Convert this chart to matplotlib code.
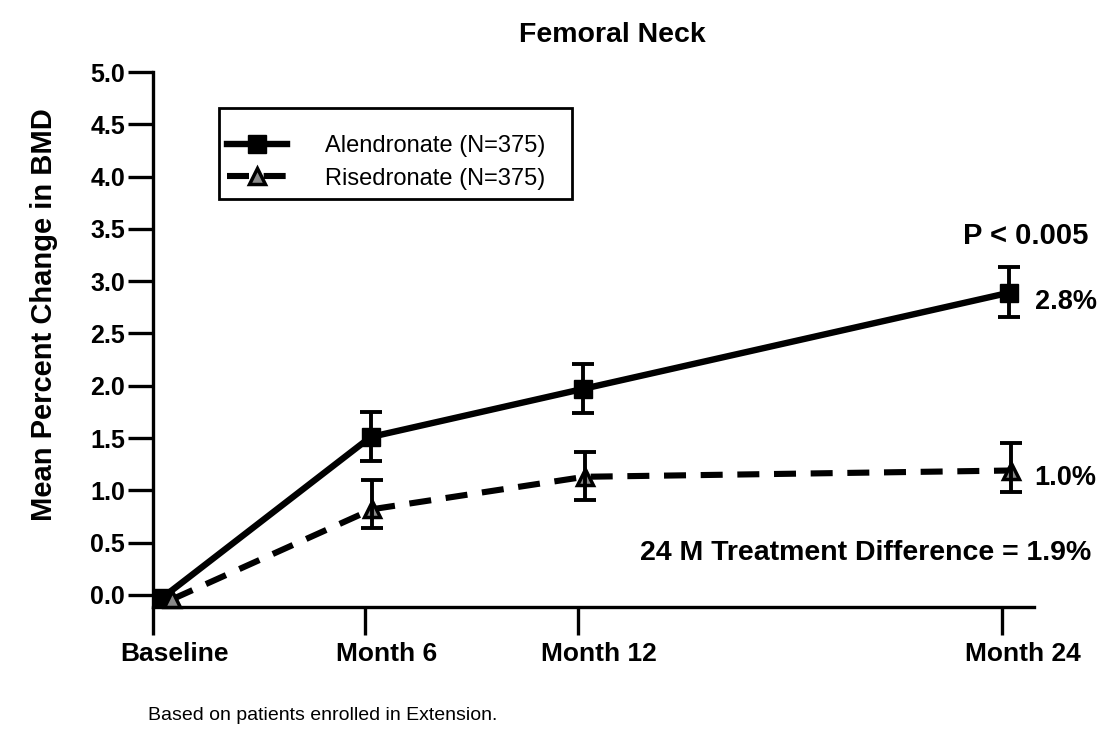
import numpy as np
import matplotlib
matplotlib.use('Agg')
import matplotlib.pyplot as plt
import matplotlib.transforms as mtransforms
from matplotlib.patches import Rectangle

plt.rcParams['font.family'] = ['Liberation Sans', 'DejaVu Sans']

months = [0, 6, 12, 24]
tick_labels = ['Baseline', 'Month 6', 'Month 12', 'Month 24']

# small nudges so the two groups don't sit on top of each other
aln_shift = [0.25, 0.15, 0.15, 0.2]
ris_shift = [0.55, 0.2, 0.2, 0.25]

aln_mean = [-0.03, 1.51, 1.97, 2.89]
aln_low = [1.28, 1.74, 2.66]    # month 6, 12, 24
aln_high = [1.75, 2.21, 3.14]

ris_mean = [-0.04, 0.82, 1.13, 1.19]
ris_low = [0.64, 0.91, 0.98]
ris_high = [1.10, 1.37, 1.45]

W, H = 1109, 730
fig = plt.figure(figsize=(W / 100, H / 100), dpi=100)
ax = fig.add_axes([153 / W, 1 - 607 / H, (1034 - 153) / W, (607 - 72) / H])

xa = np.add(months, aln_shift)
xr = np.add(months, ris_shift)

ax.plot(xa, aln_mean, color='black', lw=4.6, marker='s', ms=13,
        mfc='black', mec='black', label='Alendronate (N=375)', zorder=3,
        clip_on=False)
ax.plot(xr, ris_mean, color='black', lw=4.4, ls=(0, (3.6, 2.4)), marker='^', ms=12,
        mfc='#8a8a8a', mec='black', mew=2.5, label='Risedronate (N=375)',
        zorder=3, clip_on=False)

am = np.array(aln_mean[1:])
rm = np.array(ris_mean[1:])
ax.errorbar(xa[1:], am, yerr=[am - aln_low, np.array(aln_high) - am], fmt='none',
            ecolor='black', elinewidth=2.8, capsize=8, capthick=2.8, zorder=4)
ax.errorbar(xr[1:], rm, yerr=[rm - ris_low, np.array(ris_high) - rm], fmt='none',
            ecolor='black', elinewidth=2.8, capsize=8, capthick=2.8, zorder=4)

ax.set_xlim(0, 24.9)
ax.set_ylim(-0.115, 5.0)
for s in ['top', 'right']:
    ax.spines[s].set_visible(False)
for s in ['left', 'bottom']:
    ax.spines[s].set_linewidth(2.4)

ax.set_yticks(np.arange(0, 5.01, 0.5))
ax.set_yticklabels(['%.1f' % v for v in np.arange(0, 5.01, 0.5)])
ax.set_xticks(months)
ax.set_xticklabels(tick_labels)
ax.tick_params(axis='y', direction='out', length=18, width=2.4, labelsize=18, pad=2)
ax.tick_params(axis='x', direction='out', length=20, width=2.4, labelsize=19, pad=5)
for lbl in ax.get_yticklabels() + ax.get_xticklabels():
    lbl.set_fontweight('bold')
offset = mtransforms.ScaledTranslation(0.21, 0, fig.dpi_scale_trans)
for lbl in ax.get_xticklabels():
    lbl.set_transform(lbl.get_transform() + offset)

# legend without its own frame, box drawn separately (reference box has extra top padding)
leg = ax.legend(loc='upper left', bbox_to_anchor=(227 / W, 1 - 135 / H),
                bbox_transform=fig.transFigure, borderaxespad=0, borderpad=0,
                fontsize=17, handlelength=2.55, handletextpad=1.6,
                labelspacing=0.45, frameon=False, markerscale=1.0)
fig.add_artist(Rectangle((219 / W, 1 - 199 / H), (572 - 219) / W, (199 - 108) / H,
                         transform=fig.transFigure, fill=False, lw=2, ec='black'))

ax.text(24.66, 3.43, 'P < 0.005', ha='center', va='center', fontsize=21,
        weight='bold', clip_on=False)
ax.text(24.92, 2.80, '2.8%', ha='left', va='center', fontsize=19.5,
        weight='bold', clip_on=False)
ax.text(24.92, 1.12, '1.0%', ha='left', va='center', fontsize=19.5,
        weight='bold', clip_on=False)
ax.text(26.53, 0.40, '24 M Treatment Difference = 1.9%', ha='right', va='center',
        fontsize=20.5, weight='bold', clip_on=False)

fig.text(612 / W, 1 - 35 / H, 'Femoral Neck', ha='center', va='center',
         fontsize=20.5, weight='bold')
fig.text(44 / W, 1 - 315 / H, 'Mean Percent Change in BMD', ha='center',
         va='center', rotation=90, fontsize=21, weight='bold')
fig.text(148 / W, 1 - 715 / H, 'Based on patients enrolled in Extension.',
         ha='left', va='center', fontsize=14)

fig.savefig('out.png', dpi=100)
